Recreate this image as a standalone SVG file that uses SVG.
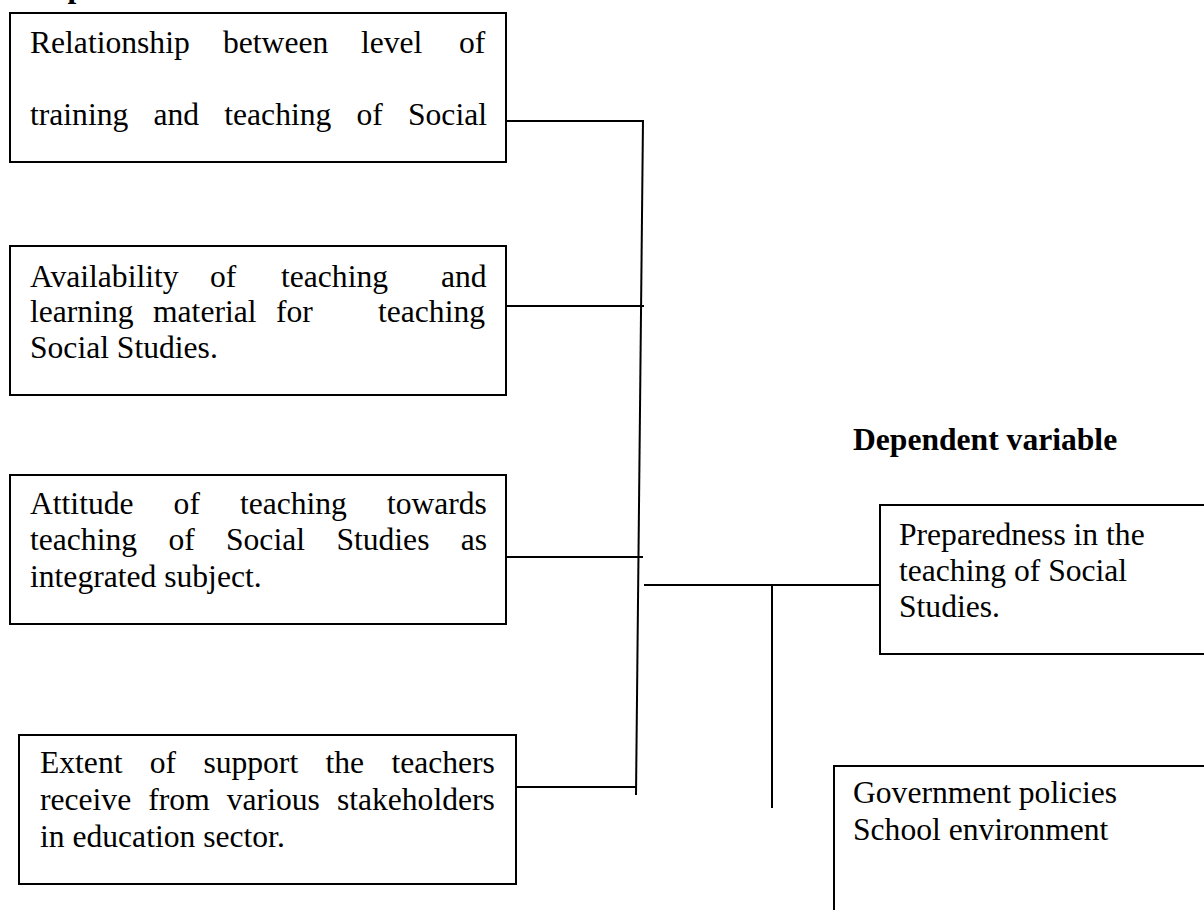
<svg xmlns="http://www.w3.org/2000/svg" width="1204" height="910" viewBox="0 0 1204 910">
<style>
.box{fill:#fff;stroke:#000;stroke-width:2}
.ln{fill:none;stroke:#000;stroke-width:2}
.t{font-family:"Liberation Serif","Times New Roman",serif;font-size:31.6px;fill:#000}
.b{font-family:"Liberation Serif","Times New Roman",serif;font-size:31.6px;font-weight:bold;fill:#000}
</style>
<rect width="1204" height="910" fill="#fff"/>
<text class="b" x="6" y="-3">Independent variable</text>
<text class="b" x="853" y="450">Dependent variable</text>
<g id="connectors">
<line class="ln" x1="506" y1="121" x2="643" y2="121"/>
<line class="ln" x1="506" y1="306" x2="644" y2="306"/>
<line class="ln" x1="506" y1="557" x2="643" y2="557"/>
<line class="ln" x1="516" y1="787" x2="636" y2="787"/>
<line class="ln" x1="643" y1="120" x2="636" y2="795"/>
<line class="ln" x1="644" y1="585" x2="880" y2="585"/>
<line class="ln" x1="772" y1="585" x2="772" y2="808"/>
</g>
<g id="n1">
<rect class="box" x="10" y="13" width="496" height="149"/>
<text class="t" y="53"><tspan x="30">Relationship</tspan><tspan x="223">between</tspan><tspan x="361">level</tspan><tspan x="459">of</tspan></text>
<text class="t" y="125"><tspan x="30">training</tspan><tspan x="153.5">and</tspan><tspan x="224.3">teaching</tspan><tspan x="356.5">of</tspan><tspan x="408">Social</tspan></text>
</g>
<g id="n2">
<rect class="box" x="10" y="246" width="496" height="149"/>
<text class="t" y="287"><tspan x="30">Availability</tspan><tspan x="210">of</tspan><tspan x="281">teaching</tspan><tspan x="441">and</tspan></text>
<text class="t" y="322"><tspan x="30">learning</tspan><tspan x="153">material</tspan><tspan x="276">for</tspan><tspan x="378">teaching</tspan></text>
<text class="t" x="30" y="358">Social Studies.</text>
</g>
<g id="n3">
<rect class="box" x="10" y="475" width="496" height="149"/>
<text class="t" y="514"><tspan x="30">Attitude</tspan><tspan x="173.6">of</tspan><tspan x="239.9">teaching</tspan><tspan x="386.9">towards</tspan></text>
<text class="t" y="550"><tspan x="30">teaching</tspan><tspan x="168.4">of</tspan><tspan x="226">Social</tspan><tspan x="336.4">Studies</tspan><tspan x="460.7">as</tspan></text>
<text class="t" x="30" y="587">integrated subject.</text>
</g>
<g id="n4">
<rect class="box" x="19" y="735" width="497" height="149"/>
<text class="t" y="773"><tspan x="40">Extent</tspan><tspan x="149.8">of</tspan><tspan x="203.4">support</tspan><tspan x="325.5">the</tspan><tspan x="391.4">teachers</tspan></text>
<text class="t" y="810"><tspan x="40">receive</tspan><tspan x="148.3">from</tspan><tspan x="226.8">various</tspan><tspan x="336.9">stakeholders</tspan></text>
<text class="t" x="40" y="847">in education sector.</text>
</g>
<g id="n5">
<rect class="box" x="880" y="505" width="340" height="149"/>
<text class="t" x="899" y="545">Preparedness in the</text>
<text class="t" x="899" y="581">teaching of Social</text>
<text class="t" x="899" y="617">Studies.</text>
</g>
<g id="n6">
<rect class="box" x="834" y="766" width="390" height="160"/>
<text class="t" x="853" y="803">Government policies</text>
<text class="t" x="853" y="840">School environment</text>
</g>
</svg>
